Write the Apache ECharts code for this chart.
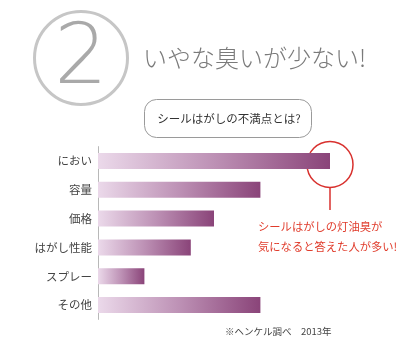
<!DOCTYPE html>
<html>
<head>
<meta charset="utf-8">
<script src="https://cdn.jsdelivr.net/npm/echarts@6/dist/echarts.min.js"></script>
<style>
  html, body { margin: 0; padding: 0; background: #fff; }
  #chart { width: 402px; height: 347px; }
</style>
</head>
<body>
<div id="chart"></div>
<script>
// Survey: complaints about sticker removers (percent of respondents)
const categories = ['におい', '容量', '価格', 'はがし性能', 'スプレー', 'その他'];
const values = [50, 35, 25, 20, 10, 35];

const JP = '"Noto Sans CJK JP", "Noto Sans", sans-serif';
const chart = echarts.init(document.getElementById('chart'), null, { renderer: 'canvas' });

const barGradient = new echarts.graphic.LinearGradient(0, 0, 1, 0, [
  { offset: 0, color: '#ebd9ea' },
  { offset: 0.5, color: '#bd91b5' },
  { offset: 1, color: '#8a4479' }
]);

chart.setOption({
  animation: false,
  backgroundColor: '#fff',
  grid: { left: 98, top: 146.6, height: 172.8, right: 25.6, containLabel: false },
  xAxis: {
    type: 'value', min: 0, max: 60,
    show: false
  },
  yAxis: {
    type: 'category',
    data: categories,
    inverse: true,
    axisLine: { show: true, lineStyle: { color: '#b8b8b8', width: 1 } },
    axisTick: { show: false },
    axisLabel: { color: '#444', fontSize: 11.5, fontFamily: JP, margin: 6 }
  },
  series: [{
    type: 'bar',
    data: values,
    barWidth: 16,
    itemStyle: { color: barGradient }
  }],
  graphic: [
    // numbered badge
    { type: 'circle', shape: { cx: 81, cy: 58, r: 46.5 },
      style: { fill: 'none', stroke: '#c6c6c6', lineWidth: 3 } },
    { type: 'text', x: 81, y: 61,
      style: { text: '2', fill: '#a9a9a9', fontSize: 84, fontWeight: 100,
               fontFamily: '"DejaVu Sans", ' + JP, align: 'center', verticalAlign: 'middle' } },
    { type: 'text', x: 143, y: 58,
      style: { text: 'いやな臭いが少ない!', fill: '#7a7a7a', fontSize: 24, fontWeight: 300,
               fontFamily: JP, verticalAlign: 'middle' } },
    // question box
    { type: 'rect', shape: { x: 144.5, y: 99.5, width: 167, height: 38, r: 12 },
      style: { fill: '#fff', stroke: '#9a9a9a', lineWidth: 1 } },
    { type: 'text', x: 229, y: 119,
      style: { text: 'シールはがしの不満点とは?', fill: '#333', fontSize: 11.5,
               fontFamily: JP, align: 'center', verticalAlign: 'middle' } },
    // callout on the top bar
    { type: 'circle', shape: { cx: 330, cy: 164.5, r: 23 },
      style: { fill: 'none', stroke: '#d8312e', lineWidth: 1.5 } },
    { type: 'line', shape: { x1: 330, y1: 187.5, x2: 330, y2: 210 },
      style: { stroke: '#d8312e', lineWidth: 1.5 } },
    { type: 'text', x: 258, y: 227,
      style: { text: 'シールはがしの灯油臭が', fill: '#e03c2c', fontSize: 11.3,
               fontFamily: JP, verticalAlign: 'middle' } },
    { type: 'text', x: 258, y: 247,
      style: { text: '気になると答えた人が多い!', fill: '#e03c2c', fontSize: 11.3,
               fontFamily: JP, verticalAlign: 'middle' } },
    // source note
    { type: 'text', x: 225, y: 331,
      style: { text: '※ヘンケル調べ　2013年', fill: '#444', fontSize: 9.5,
               fontFamily: JP, verticalAlign: 'middle' } }
  ]
});
</script>
</body>
</html>
